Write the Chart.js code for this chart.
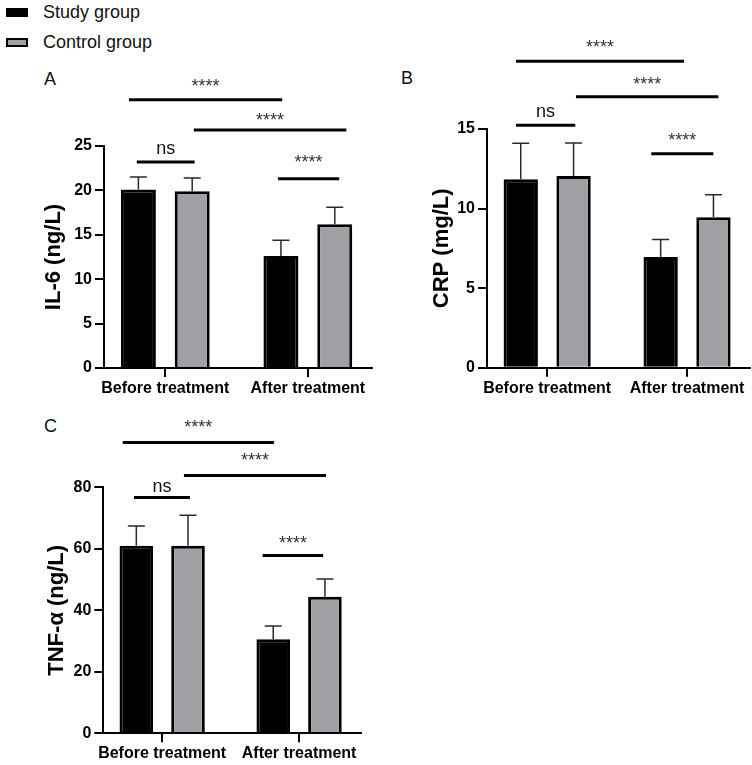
<!DOCTYPE html>
<html>
<head>
<meta charset="utf-8">
<script src="https://cdn.jsdelivr.net/npm/chart.js@4.4.1/dist/chart.umd.min.js"></script>
<style>
    body { margin: 0; background: #fff; }
    #page { position: relative; width: 752px; height: 765px; overflow: hidden; font-family: "Liberation Sans", Arial, sans-serif; }
    #page canvas { position: absolute; }
    .legend-row { position: absolute; left: 6px; font-size: 18px; line-height: 18px; color: #111; }
    .legend-box { position: absolute; left: 0; width: 22px; height: 9px; box-sizing: border-box; }
    .legend-text { position: absolute; left: 37px; white-space: nowrap; }
    .panel-letter { position: absolute; font-size: 18px; line-height: 18px; color: #111; }
</style>
</head>
<body>
<div id="page">
    <div class="legend-row" style="top:3px;">
        <span class="legend-box" style="top:5px; background:#000;"></span>
        <span class="legend-text">Study group</span>
    </div>
    <div class="legend-row" style="top:33px;">
        <span class="legend-box" style="top:5px; background:#a0a0a4; border:2px solid #000;"></span>
        <span class="legend-text">Control group</span>
    </div>
    <div class="panel-letter" style="left:44px; top:70px;">A</div>
    <div class="panel-letter" style="left:401px; top:69px;">B</div>
    <div class="panel-letter" style="left:44px; top:417px;">C</div>

    <canvas id="chartA" width="380" height="360" style="left:0px; top:40px;"></canvas>
    <canvas id="chartB" width="372" height="385" style="left:380px; top:20px;"></canvas>
    <canvas id="chartC" width="380" height="365" style="left:0px; top:400px;"></canvas>
</div>

<script>
// Categories on the x axis
const categories = ['Before treatment', 'After treatment'];

// IL-6 (ng/L): means and upper SD
const il6Study = [20.1, 12.6];
const il6StudySd = [1.4, 1.8];
const il6Control = [19.9, 16.2];
const il6ControlSd = [1.5, 1.9];

// CRP (mg/L)
const crpStudy = [11.85, 6.95];
const crpStudySd = [2.25, 1.1];
const crpControl = [12.05, 9.45];
const crpControlSd = [2.07, 1.42];

// TNF-α (ng/L)
const tnfStudy = [61.0, 30.6];
const tnfStudySd = [6.4, 4.3];
const tnfControl = [61.0, 44.4];
const tnfControlSd = [9.9, 5.8];

// Significance brackets: [x from, x to, line value, label value, label]
const il6Brackets = [
    [-0.255, 0.82, 30.2, 32.1, '****'],
    [0.2, 1.27, 26.8, 28.3, '****'],
    [-0.2, 0.206, 23.2, 24.7, 'ns'],
    [0.79, 1.22, 21.3, 23.6, '****']
];
const crpBrackets = [
    [-0.223, 0.978, 19.26, 20.35, '****'],
    [0.206, 1.224, 17.03, 18.04, '****'],
    [-0.223, 0.201, 15.24, 16.09, 'ns'],
    [0.744, 1.188, 13.44, 14.52, '****']
];
const tnfBrackets = [
    [-0.288, 0.816, 94.6, 100.8, '****'],
    [0.159, 1.196, 83.8, 89.9, '****'],
    [-0.206, 0.203, 76.7, 80.0, 'ns'],
    [0.734, 1.176, 57.8, 62.9, '****']
];

const FONT = '"Liberation Sans", Arial, sans-serif';

// Draws upper error bars with caps
const errorBarPlugin = {
    id: 'errorBars',
    afterDatasetsDraw(chart) {
        const ctx = chart.ctx;
        const yScale = chart.scales.y;
        ctx.save();
        ctx.strokeStyle = '#2a2a2a';
        ctx.lineWidth = 1.5;
        chart.data.datasets.forEach((ds, di) => {
            const meta = chart.getDatasetMeta(di);
            meta.data.forEach((bar, i) => {
                const top = yScale.getPixelForValue(ds.data[i].y + ds.sd[i]);
                ctx.beginPath();
                ctx.moveTo(bar.x, bar.y);
                ctx.lineTo(bar.x, top);
                ctx.moveTo(bar.x - 8.5, top);
                ctx.lineTo(bar.x + 8.5, top);
                ctx.stroke();
            });
        });
        ctx.restore();
    }
};

// Draws the significance lines and their labels
const bracketPlugin = {
    id: 'brackets',
    afterDraw(chart, args, opts) {
        const ctx = chart.ctx;
        const xs = chart.scales.x;
        const ys = chart.scales.y;
        ctx.save();
        (opts.items || []).forEach(([x1, x2, lineVal, textVal, label]) => {
            const px1 = xs.getPixelForValue(x1);
            const px2 = xs.getPixelForValue(x2);
            const py = ys.getPixelForValue(lineVal);
            ctx.strokeStyle = '#000';
            ctx.lineWidth = 3;
            ctx.beginPath();
            ctx.moveTo(px1, py);
            ctx.lineTo(px2, py);
            ctx.stroke();

            const ty = ys.getPixelForValue(textVal);
            ctx.font = '18px ' + FONT;
            ctx.fillStyle = label === 'ns' ? '#111' : '#333';
            ctx.textAlign = 'center';
            ctx.textBaseline = 'alphabetic';
            const m = ctx.measureText(label);
            const base = ty + (m.actualBoundingBoxAscent - m.actualBoundingBoxDescent) / 2;
            ctx.fillText(label, (px1 + px2) / 2, base);
        });
        ctx.restore();
    }
};

function makePanel(canvasId, panel) {
    const ctx = document.getElementById(canvasId).getContext('2d');
    const toPoints = values => values.map((v, i) => ({ x: i, y: v }));
    return new Chart(ctx, {
        type: 'bar',
        data: {
            datasets: [{
                label: 'Study group',
                data: toPoints(panel.study),
                sd: panel.studySd,
                backgroundColor: '#000',
                borderColor: '#000',
                borderWidth: 3
            }, {
                label: 'Control group',
                data: toPoints(panel.control),
                sd: panel.controlSd,
                backgroundColor: '#a0a0a4',
                borderColor: '#000',
                borderWidth: 3
            }]
        },
        options: {
            responsive: false,
            animation: false,
            categoryPercentage: 0.755,
            barPercentage: 0.65,
            layout: { padding: { top: panel.padTop, right: panel.padRight, left: 0, bottom: 0 } },
            plugins: {
                legend: { display: false },
                tooltip: { enabled: false },
                brackets: { items: panel.brackets }
            },
            scales: {
                x: {
                    type: 'linear',
                    offset: false,
                    min: -0.43,
                    max: 1.45,
                    afterBuildTicks: scale => { scale.ticks = categories.map((c, i) => ({ value: i })); },
                    afterFit: scale => { scale.height = panel.xHeight; },
                    ticks: {
                        callback: (value, index) => categories[index],
                        color: '#000',
                        padding: 2,
                        maxRotation: 0,
                        font: { family: FONT, size: 16, weight: 'bold' }
                    },
                    grid: { drawOnChartArea: false, offset: false, tickLength: 9, color: '#000', lineWidth: 2 },
                    border: { display: true, color: '#000', width: 2 }
                },
                y: {
                    min: 0,
                    max: panel.max,
                    afterFit: scale => { scale.width = panel.yWidth; },
                    ticks: {
                        stepSize: panel.step,
                        color: '#000',
                        padding: 3,
                        font: { family: FONT, size: 16, weight: 'bold' }
                    },
                    grid: { drawOnChartArea: false, tickLength: 9, color: '#000', lineWidth: 2 },
                    border: { display: true, color: '#000', width: 2 },
                    title: {
                        display: true,
                        text: panel.title,
                        color: '#000',
                        padding: { top: panel.titlePad, bottom: 0 },
                        font: { family: FONT, size: 22, weight: 'bold' }
                    }
                }
            }
        },
        plugins: [errorBarPlugin, bracketPlugin]
    });
}

makePanel('chartA', {
    title: 'IL-6 (ng/L)', max: 25, step: 5,
    study: il6Study, studySd: il6StudySd, control: il6Control, controlSd: il6ControlSd,
    brackets: il6Brackets,
    padTop: 106, padRight: 8, yWidth: 104, xHeight: 32, titlePad: 41
});

makePanel('chartB', {
    title: 'CRP (mg/L)', max: 15, step: 5,
    study: crpStudy, studySd: crpStudySd, control: crpControl, controlSd: crpControlSd,
    brackets: crpBrackets,
    padTop: 109, padRight: 2, yWidth: 107, xHeight: 37.3, titlePad: 49
});

makePanel('chartC', {
    title: 'TNF-α (ng/L)', max: 80, step: 20,
    study: tnfStudy, studySd: tnfStudySd, control: tnfControl, controlSd: tnfControlSd,
    brackets: tnfBrackets,
    padTop: 87.3, padRight: 19.3, yWidth: 103.3, xHeight: 31.7, titlePad: 44
});
</script>
</body>
</html>
